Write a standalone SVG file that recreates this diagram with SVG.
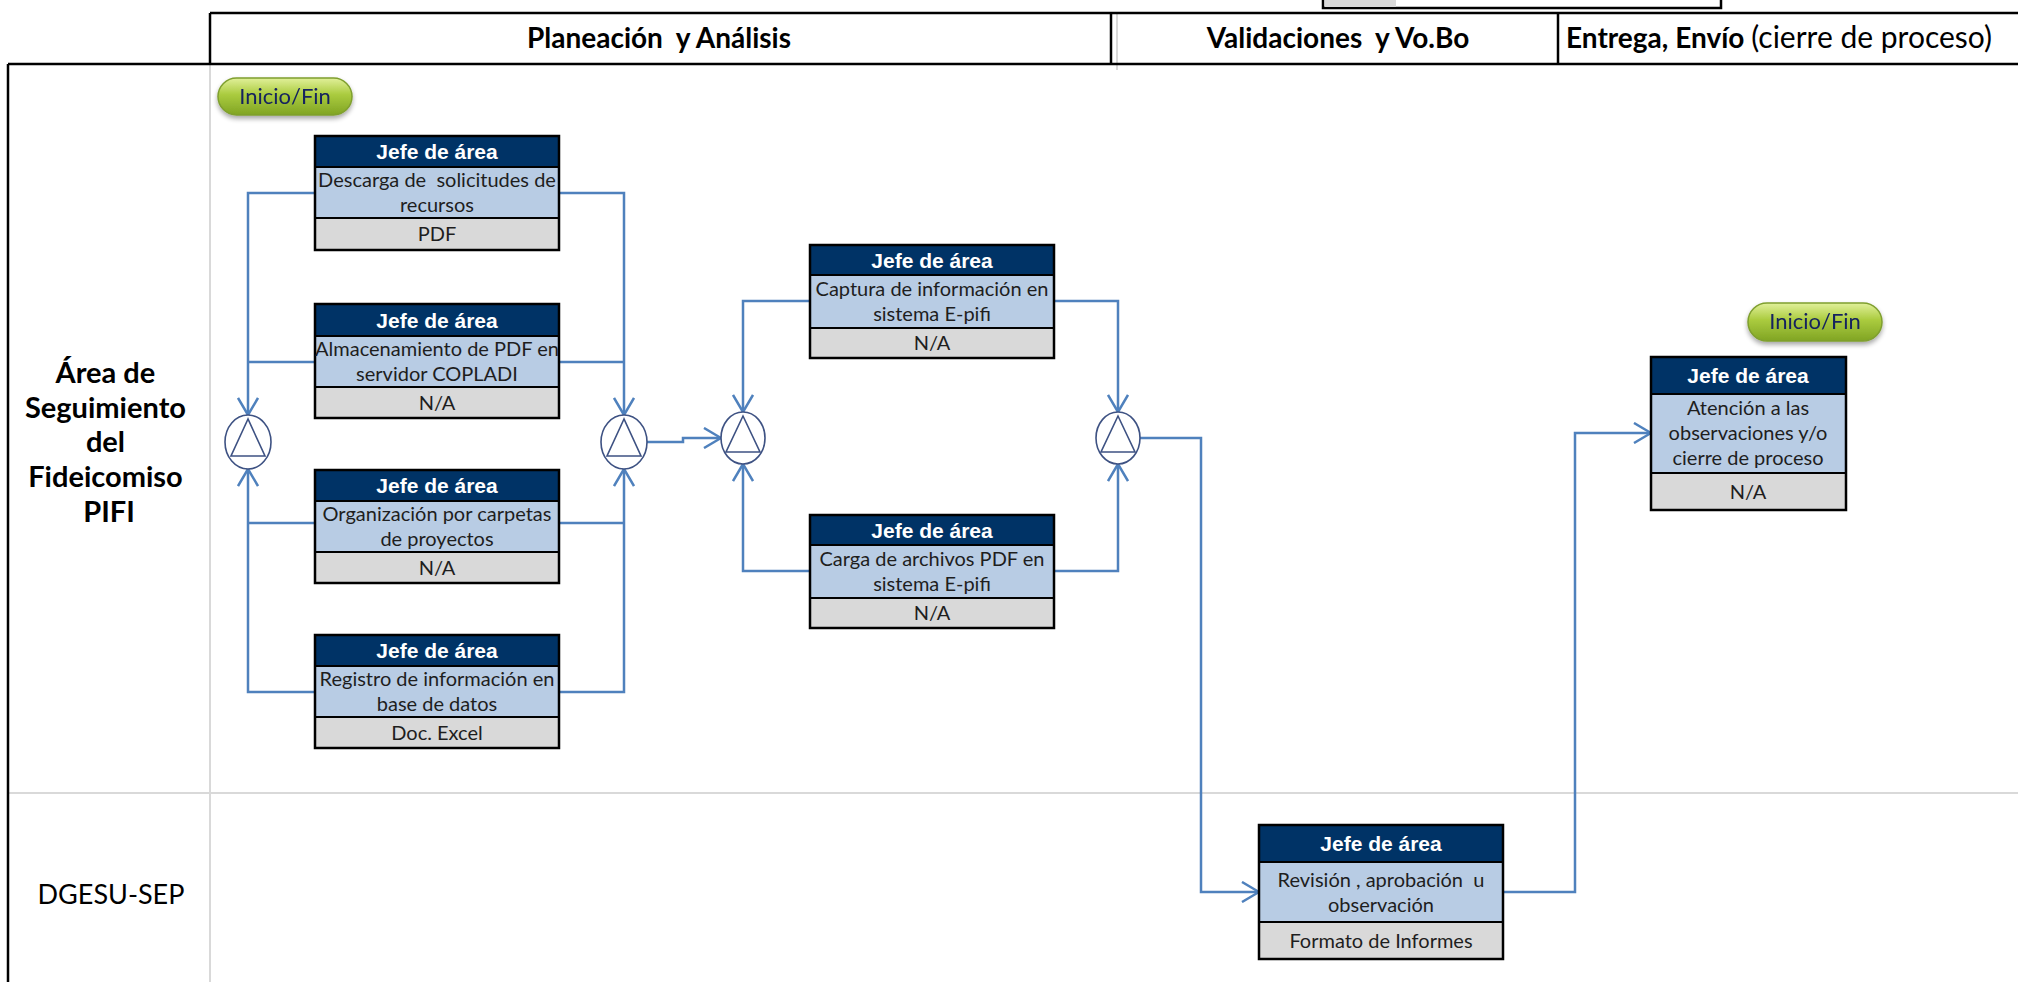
<svg xmlns="http://www.w3.org/2000/svg" width="2018" height="982" viewBox="0 0 2018 982">
  <defs>
    <style>
      .grid-dark { stroke:#000; stroke-width:2.5; fill:none; }
      .grid-light { stroke:#d9d9d9; stroke-width:2; fill:none; }
      .col-title { font-family:Lato, "Liberation Sans", sans-serif; font-weight:bold; font-size:28px; fill:#000; white-space:pre; }
      .lane-title { font-family:Lato, "Liberation Sans", sans-serif; font-size:27px; fill:#000; text-anchor:middle; }
      .lane-title.major { font-weight:bold; font-size:29px; }
      .bx-head { fill:#003366; }
      .bx-desc { fill:#b8cce4; }
      .bx-foot { fill:#d9d9d9; }
      .bx-sep { stroke:#000; stroke-width:2; }
      .bx-frame { fill:none; stroke:#000; stroke-width:2.5; }
      .t-head { font-family:"Liberation Sans", Arial, sans-serif; font-weight:bold; font-size:21px; fill:#fff; text-anchor:middle; white-space:pre; }
      .t-body { font-family:Lato, "Liberation Sans", sans-serif; font-size:20px; fill:#1e1e1e; text-anchor:middle; white-space:pre; }
      .pill { fill:url(#pillGrad); stroke:#7f9f2f; stroke-width:1.5; }
      .t-pill { font-family:Lato, "Liberation Sans", sans-serif; font-size:22px; fill:#14225e; text-anchor:middle; }
      .flow { fill:none; stroke:#4f81bd; stroke-width:2.5; }
      .merge { fill:#fff; stroke:#3e5283; stroke-width:1.6; }
    </style>
    <linearGradient id="pillGrad" x1="0" y1="0" x2="0" y2="1">
      <stop offset="0" stop-color="#e1f09a"/>
      <stop offset="0.45" stop-color="#aacb3e"/>
      <stop offset="1" stop-color="#80a424"/>
    </linearGradient>
    <filter id="shadow" x="-20%" y="-30%" width="140%" height="170%">
      <feGaussianBlur in="SourceAlpha" stdDeviation="2.5"/>
      <feOffset dx="0" dy="3" result="b"/>
      <feComponentTransfer><feFuncA type="linear" slope="0.35"/></feComponentTransfer>
      <feMerge><feMergeNode/><feMergeNode in="SourceGraphic"/></feMerge>
    </filter>
    <marker id="arrow" viewBox="0 0 20 22" refX="19" refY="11" markerWidth="20" markerHeight="22" markerUnits="userSpaceOnUse" orient="auto">
      <path d="M2,1 L19,11 L2,21" fill="none" stroke="#4f81bd" stroke-width="2.5"/>
    </marker>
  </defs>

  <rect width="2018" height="982" fill="#fff"/>

  <!-- page frame: header band, lanes -->
  <g id="frame">
    <rect x="1323" y="-4" width="398" height="12" fill="#fff" stroke="#000" stroke-width="2.5"/>
    <rect x="1325" y="-2" width="71" height="9" fill="#d9d9d9"/>
    <line class="grid-light" x1="210" y1="64" x2="210" y2="982"/>
    <line class="grid-light" x1="8" y1="793" x2="2018" y2="793"/>
    <line class="grid-light" x1="1117" y1="13" x2="1117" y2="70"/>
    <line class="grid-dark" x1="210" y1="13" x2="2018" y2="13"/>
    <line class="grid-dark" x1="8" y1="64" x2="2018" y2="64"/>
    <line class="grid-dark" x1="210" y1="13" x2="210" y2="64"/>
    <line class="grid-dark" x1="1111" y1="13" x2="1111" y2="64"/>
    <line class="grid-dark" x1="1558" y1="13" x2="1558" y2="64"/>
    <line class="grid-dark" x1="8" y1="64" x2="8" y2="982"/>
  </g>

  <g id="column-titles">
    <text class="col-title" x="659" y="48" text-anchor="middle">Planeación  y Análisis</text>
    <text class="col-title" x="1338" y="48" text-anchor="middle">Validaciones  y Vo.Bo</text>
    <text class="col-title" x="1566" y="48">Entrega, Envío <tspan font-weight="normal" font-size="30">(cierre de proceso)</tspan></text>
  </g>

  <g id="lane-titles">
    <text class="lane-title major" x="109">
      <tspan x="109" y="383">Área de</tspan>
      <tspan x="109" y="418">Seguimiento</tspan>
      <tspan x="109" y="452">del</tspan>
      <tspan x="109" y="487">Fideicomiso</tspan>
      <tspan x="109" y="522">PIFI</tspan>
    </text>
    <text class="lane-title" x="111" y="904">DGESU-SEP</text>
  </g>

  <!-- connectors -->
  <g id="connectors">
    <path class="flow" d="M315,193 H248 V415" marker-end="url(#arrow)"/>
    <path class="flow" d="M315,362 H248"/>
    <path class="flow" d="M315,692 H248 V469" marker-end="url(#arrow)"/>
    <path class="flow" d="M315,523 H248"/>
    <path class="flow" d="M559,193 H624 V415" marker-end="url(#arrow)"/>
    <path class="flow" d="M559,362 H624"/>
    <path class="flow" d="M559,692 H624 V469" marker-end="url(#arrow)"/>
    <path class="flow" d="M559,523 H624"/>
    <path class="flow" d="M647,442 H683 V438 H721" marker-end="url(#arrow)"/>
    <path class="flow" d="M810,301 H743 V412" marker-end="url(#arrow)"/>
    <path class="flow" d="M810,571 H743 V464" marker-end="url(#arrow)"/>
    <path class="flow" d="M1054,301 H1118 V412" marker-end="url(#arrow)"/>
    <path class="flow" d="M1054,571 H1118 V464" marker-end="url(#arrow)"/>
    <path class="flow" d="M1140,438 H1201 V892 H1259" marker-end="url(#arrow)"/>
    <path class="flow" d="M1503,892 H1575 V433 H1651" marker-end="url(#arrow)"/>
  </g>

  <!-- merge points -->
  <g id="merge-1">
    <ellipse class="merge" cx="248" cy="442" rx="23" ry="27"/>
    <path class="merge" fill="none" d="M248,419 L231,456 L265,456 Z"/>
  </g>
  <g id="merge-2">
    <ellipse class="merge" cx="624" cy="442" rx="23" ry="27"/>
    <path class="merge" fill="none" d="M624,419 L607,456 L641,456 Z"/>
  </g>
  <g id="merge-3">
    <ellipse class="merge" cx="743" cy="438" rx="22" ry="26"/>
    <path class="merge" fill="none" d="M743,416 L726,452 L760,452 Z"/>
  </g>
  <g id="merge-4">
    <ellipse class="merge" cx="1118" cy="438" rx="22" ry="26"/>
    <path class="merge" fill="none" d="M1118,416 L1101,452 L1135,452 Z"/>
  </g>

  <!-- terminators -->
  <g id="start" filter="url(#shadow)">
    <rect class="pill" x="218" y="78" width="134" height="37" rx="18.5"/>
    <text class="t-pill" x="285" y="104">Inicio/Fin</text>
  </g>
  <g id="end" filter="url(#shadow)">
    <rect class="pill" x="1748" y="303" width="134" height="38" rx="19"/>
    <text class="t-pill" x="1815" y="329">Inicio/Fin</text>
  </g>

  <!-- activity boxes -->
  <g id="descarga">
    <rect class="bx-head" x="315" y="136" width="244" height="31"/>
    <rect class="bx-desc" x="315" y="167" width="244" height="51"/>
    <rect class="bx-foot" x="315" y="218" width="244" height="32"/>
    <line class="bx-sep" x1="315" y1="167" x2="559" y2="167"/>
    <line class="bx-sep" x1="315" y1="218" x2="559" y2="218"/>
    <rect class="bx-frame" x="315" y="136" width="244" height="114"/>
    <text class="t-head" x="437" y="159">Jefe de área</text>
    <text class="t-body" x="437" y="187">Descarga de  solicitudes de</text>
    <text class="t-body" x="437" y="212">recursos</text>
    <text class="t-body" x="437" y="241">PDF</text>
  </g>

  <g id="almacenamiento">
    <rect class="bx-head" x="315" y="304" width="244" height="32"/>
    <rect class="bx-desc" x="315" y="336" width="244" height="51"/>
    <rect class="bx-foot" x="315" y="387" width="244" height="31"/>
    <line class="bx-sep" x1="315" y1="336" x2="559" y2="336"/>
    <line class="bx-sep" x1="315" y1="387" x2="559" y2="387"/>
    <rect class="bx-frame" x="315" y="304" width="244" height="114"/>
    <text class="t-head" x="437" y="328">Jefe de área</text>
    <text class="t-body" x="437" y="356">Almacenamiento de PDF en</text>
    <text class="t-body" x="437" y="381">servidor COPLADI</text>
    <text class="t-body" x="437" y="410">N/A</text>
  </g>

  <g id="organizacion">
    <rect class="bx-head" x="315" y="470" width="244" height="31"/>
    <rect class="bx-desc" x="315" y="501" width="244" height="51"/>
    <rect class="bx-foot" x="315" y="552" width="244" height="31"/>
    <line class="bx-sep" x1="315" y1="501" x2="559" y2="501"/>
    <line class="bx-sep" x1="315" y1="552" x2="559" y2="552"/>
    <rect class="bx-frame" x="315" y="470" width="244" height="113"/>
    <text class="t-head" x="437" y="493">Jefe de área</text>
    <text class="t-body" x="437" y="521">Organización por carpetas</text>
    <text class="t-body" x="437" y="546">de proyectos</text>
    <text class="t-body" x="437" y="575">N/A</text>
  </g>

  <g id="registro">
    <rect class="bx-head" x="315" y="635" width="244" height="31"/>
    <rect class="bx-desc" x="315" y="666" width="244" height="51"/>
    <rect class="bx-foot" x="315" y="717" width="244" height="31"/>
    <line class="bx-sep" x1="315" y1="666" x2="559" y2="666"/>
    <line class="bx-sep" x1="315" y1="717" x2="559" y2="717"/>
    <rect class="bx-frame" x="315" y="635" width="244" height="113"/>
    <text class="t-head" x="437" y="658">Jefe de área</text>
    <text class="t-body" x="437" y="686">Registro de información en</text>
    <text class="t-body" x="437" y="711">base de datos</text>
    <text class="t-body" x="437" y="740">Doc. Excel</text>
  </g>

  <g id="captura">
    <rect class="bx-head" x="810" y="245" width="244" height="30"/>
    <rect class="bx-desc" x="810" y="275" width="244" height="53"/>
    <rect class="bx-foot" x="810" y="328" width="244" height="30"/>
    <line class="bx-sep" x1="810" y1="275" x2="1054" y2="275"/>
    <line class="bx-sep" x1="810" y1="328" x2="1054" y2="328"/>
    <rect class="bx-frame" x="810" y="245" width="244" height="113"/>
    <text class="t-head" x="932" y="268">Jefe de área</text>
    <text class="t-body" x="932" y="296">Captura de información en</text>
    <text class="t-body" x="932" y="321">sistema E-pifi</text>
    <text class="t-body" x="932" y="350">N/A</text>
  </g>

  <g id="carga">
    <rect class="bx-head" x="810" y="515" width="244" height="30"/>
    <rect class="bx-desc" x="810" y="545" width="244" height="53"/>
    <rect class="bx-foot" x="810" y="598" width="244" height="30"/>
    <line class="bx-sep" x1="810" y1="545" x2="1054" y2="545"/>
    <line class="bx-sep" x1="810" y1="598" x2="1054" y2="598"/>
    <rect class="bx-frame" x="810" y="515" width="244" height="113"/>
    <text class="t-head" x="932" y="538">Jefe de área</text>
    <text class="t-body" x="932" y="566">Carga de archivos PDF en</text>
    <text class="t-body" x="932" y="591">sistema E-pifi</text>
    <text class="t-body" x="932" y="620">N/A</text>
  </g>

  <g id="revision">
    <rect class="bx-head" x="1259" y="825" width="244" height="37"/>
    <rect class="bx-desc" x="1259" y="862" width="244" height="60"/>
    <rect class="bx-foot" x="1259" y="922" width="244" height="37"/>
    <line class="bx-sep" x1="1259" y1="862" x2="1503" y2="862"/>
    <line class="bx-sep" x1="1259" y1="922" x2="1503" y2="922"/>
    <rect class="bx-frame" x="1259" y="825" width="244" height="134"/>
    <text class="t-head" x="1381" y="851">Jefe de área</text>
    <text class="t-body" x="1381" y="887">Revisión , aprobación  u</text>
    <text class="t-body" x="1381" y="912">observación</text>
    <text class="t-body" x="1381" y="948">Formato de Informes</text>
  </g>

  <g id="atencion">
    <rect class="bx-head" x="1651" y="357" width="195" height="37"/>
    <rect class="bx-desc" x="1651" y="394" width="195" height="79"/>
    <rect class="bx-foot" x="1651" y="473" width="195" height="37"/>
    <line class="bx-sep" x1="1651" y1="394" x2="1846" y2="394"/>
    <line class="bx-sep" x1="1651" y1="473" x2="1846" y2="473"/>
    <rect class="bx-frame" x="1651" y="357" width="195" height="153"/>
    <text class="t-head" x="1748" y="383">Jefe de área</text>
    <text class="t-body" x="1748" y="415">Atención a las</text>
    <text class="t-body" x="1748" y="440">observaciones y/o</text>
    <text class="t-body" x="1748" y="465">cierre de proceso</text>
    <text class="t-body" x="1748" y="499">N/A</text>
  </g>
</svg>
